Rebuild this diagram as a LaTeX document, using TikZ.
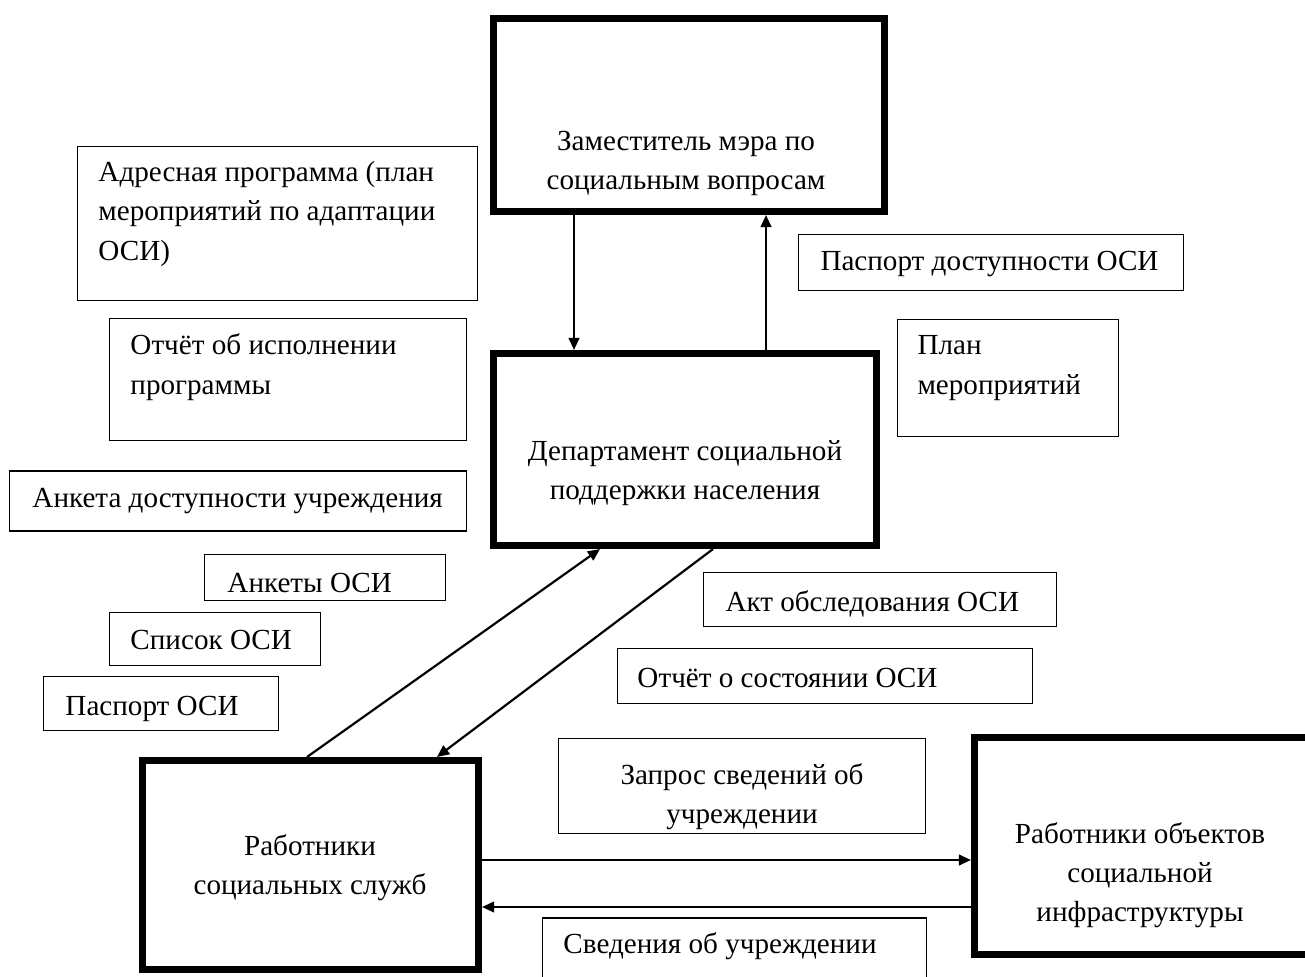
\documentclass[tikz,border=0pt]{standalone}
\usepackage{fontspec}
\setmainfont{Liberation Serif}
\usetikzlibrary{arrows.meta}

\begin{document}
\begin{tikzpicture}[x=0.412pt,y=-0.412pt,
  boxsize/.style 2 args={minimum width=#1*0.412pt,minimum height=#2*0.412pt},
  big/.style={draw,line width=2.9pt,inner sep=0pt},
  doc/.style={draw,line width=0.62pt,inner sep=0pt},
  txt/.style={inner sep=0pt,font=\fontsize{12pt}{16.07pt}\selectfont},
  ctxt/.style={txt,align=center,anchor=base},
  ltxt/.style={txt,align=left,anchor=base west},
  arr/.style={line width=0.9pt,-{Triangle[length=5pt,width=4.4pt]}}]

\useasboundingbox (0,0) rectangle (1305,976);

\node[big,boxsize={391}{193}] (zam) at (689,115) {};
\node[big,boxsize={383}{192}] (dept) at (685,449.5) {};
\node[big,boxsize={336}{209}] (soc) at (310.5,865) {};
\node[big,boxsize={337.5}{217}] (obj) at (1143.25,846) {};

% base = last line of the text
\node[ctxt] (zam-t) at (686,190) {Заместитель мэра по\\социальным вопросам};
\node[ctxt] (dept-t) at (685,499) {Департамент социальной\\поддержки населения};
\node[ctxt] (soc-t) at (310,894) {Работники\\социальных служб};
\node[ctxt] (obj-t) at (1140,921) {Работники объектов\\социальной\\инфраструктуры};

\node[doc,boxsize={400}{154}] (adres) at (277.5,223.5) {};
\node[doc,boxsize={357}{122}] (ispoln) at (288,379.5) {};
\node[doc,boxsize={457}{60}] (anketa) at (238,501) {};
\node[doc,boxsize={241}{46}] (ankety) at (325,577.5) {};
\node[doc,boxsize={211}{53}] (spisok) at (215,639) {};
\node[doc,boxsize={235}{54}] (pasport) at (161,703.5) {};
\node[doc,boxsize={385}{56}] (dostup) at (991,262.5) {};
\node[doc,boxsize={221}{117}] (plan) at (1008,378) {};
\node[doc,boxsize={353}{54}] (akt) at (880,599.5) {};
\node[doc,boxsize={415}{55}] (sostoyan) at (825,676) {};
\node[doc,boxsize={367}{95}] (zapros) at (742,786) {};
\node[doc,boxsize={384}{82}] (sveden) at (734.5,959) {};

\node[ltxt] (adres-t) at (98,260) {Адресная программа (план\\мероприятий по адаптации\\ОСИ)};
\node[ltxt] (ispoln-t) at (130,394) {Отчёт об исполнении\\программы};
\node[ltxt] (anketa-t) at (32,507) {Анкета доступности учреждения};
\node[ltxt] (ankety-t) at (227,592) {Анкеты ОСИ};
\node[ltxt] (spisok-t) at (130,649) {Список ОСИ};
\node[ltxt] (pasport-t) at (65,715) {Паспорт ОСИ};
\node[ltxt] (dostup-t) at (820,270) {Паспорт доступности ОСИ};
\node[ltxt] (plan-t) at (917,394) {План\\мероприятий};
\node[ltxt] (akt-t) at (725,611) {Акт обследования ОСИ};
\node[ltxt] (sostoyan-t) at (637,687) {Отчёт о состоянии ОСИ};
\node[ctxt] (zapros-t) at (742,823) {Запрос сведений об\\учреждении};
\node[ltxt] (sveden-t) at (563,953) {Сведения об учреждении};

\draw[arr] (574,0 |- zam.south) -- (574,0 |- dept.north);
\draw[arr] (766,0 |- dept.north) -- (766,0 |- zam.south);

\draw[arr] (307,0 |- soc.north) -- (600,0 |- dept.south);
\draw[arr] (713,0 |- dept.south) -- (437,0 |- soc.north);

\draw[arr] (soc.east |- 0,860) -- (obj.west |- 0,860);
\draw[arr] (obj.west |- 0,907) -- (soc.east |- 0,907);

\end{tikzpicture}
\end{document}
